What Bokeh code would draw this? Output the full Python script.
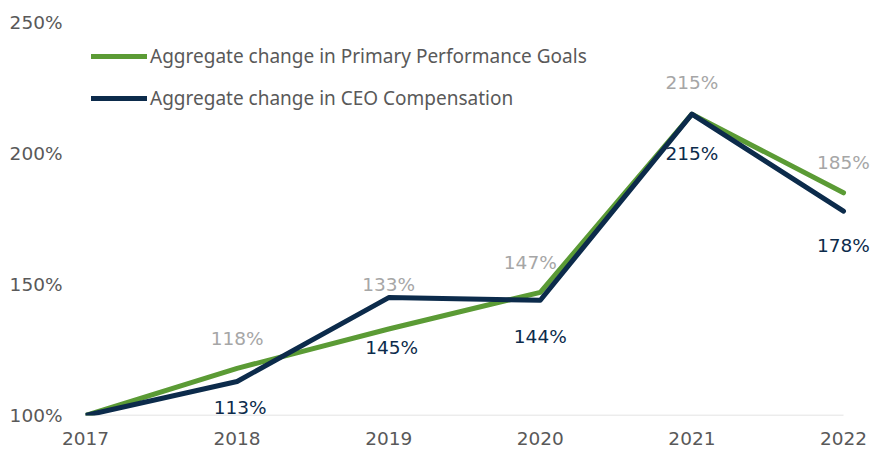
from bokeh.plotting import figure
from bokeh.models import ColumnDataSource, Legend, LegendItem, FixedTicker, CustomJSTickFormatter, LabelSet
from bokeh.core.properties import value
from bokeh.embed import file_html
from bokeh.resources import INLINE

years = [2017, 2018, 2019, 2020, 2021, 2022]
goals = [100, 118, 133, 147, 215, 185]
ceo = [100, 113, 145, 144, 215, 178]
y_ticks = [100, 150, 200, 250]
series_names = ["Aggregate change in Primary Performance Goals", "Aggregate change in CEO Compensation"]

GREEN = "#5B9B35"
NAVY = "#0C2B4B"
GRAY_TXT = "#595959"
LBL_GRAY = "#A6A6A6"
NUM_FONT = "DejaVu Sans"
TXT_FONT = "Noto Sans"

# frame extends to the right edge so the 2022 labels are not clipped
x_pad = 28 / 151.6
p = figure(width=871, height=457, output_backend="svg", toolbar_location=None,
           x_range=(years[0], years[-1] + x_pad), y_range=(y_ticks[0], y_ticks[-1]),
           min_border_left=85, min_border_right=0, min_border_top=22, min_border_bottom=42)
p.outline_line_color = None
p.background_fill_color = "white"
p.border_fill_color = "white"
p.xgrid.visible = False
p.ygrid.visible = False

# baseline (axis line only between first and last category)
p.segment(x0=[years[0]], y0=[y_ticks[0]], x1=[years[-1]], y1=[y_ticks[0]],
          line_color="#D9D9D9", line_width=1.5)

# axes
p.xaxis.ticker = FixedTicker(ticks=years)
p.xaxis.axis_line_color = None
p.xaxis.major_tick_line_color = None
p.xaxis.minor_tick_line_color = None
p.xaxis.major_tick_out = 0
p.xaxis.major_label_standoff = 16
p.xaxis.major_label_text_font = NUM_FONT
p.xaxis.major_label_text_font_size = "18.5px"
p.xaxis.major_label_text_color = GRAY_TXT

p.yaxis.ticker = FixedTicker(ticks=y_ticks)
p.yaxis.formatter = CustomJSTickFormatter(code="return tick + '%';")
p.yaxis.axis_line_color = None
p.yaxis.major_tick_line_color = None
p.yaxis.minor_tick_line_color = None
p.yaxis.major_tick_out = 0
p.yaxis.major_label_standoff = 23
p.yaxis.major_label_text_font = NUM_FONT
p.yaxis.major_label_text_font_size = "18.5px"
p.yaxis.major_label_text_color = GRAY_TXT

src = ColumnDataSource(dict(x=years, goals=goals, ceo=ceo))
r_g = p.line("x", "goals", source=src, line_color=GREEN, line_width=5, line_cap="round", line_join="round")
r_c = p.line("x", "ceo", source=src, line_color=NAVY, line_width=5, line_cap="round", line_join="round")

# data labels (skip 2017); offsets in screen px, positive = up/right
g_lab = ColumnDataSource(dict(x=years[1:], y=goals[1:], t=[f"{v}%" for v in goals[1:]],
                              dx=[0, 0, -10, 0, 0], dy=[30, 45, 30, 32, 30]))
c_lab = ColumnDataSource(dict(x=years[1:], y=ceo[1:], t=[f"{v}%" for v in ceo[1:]],
                              dx=[3, 3, 0, 0, 0], dy=[-26, -50, -36, -39, -34]))
p.add_layout(LabelSet(x="x", y="y", text="t", source=g_lab, x_offset="dx", y_offset="dy",
                      text_align="center", text_baseline="middle", text_color=LBL_GRAY,
                      text_font=value(NUM_FONT), text_font_size=value("18.5px")))
p.add_layout(LabelSet(x="x", y="y", text="t", source=c_lab, x_offset="dx", y_offset="dy",
                      text_align="center", text_baseline="middle", text_color=NAVY,
                      text_font=value(NUM_FONT), text_font_size=value("18.5px")))

legend = Legend(items=[LegendItem(label=series_names[0], renderers=[r_g]),
                       LegendItem(label=series_names[1], renderers=[r_c])],
                location=(6, 304), orientation="vertical",
                glyph_width=56, glyph_height=22, label_height=22, spacing=16,
                label_standoff=3, padding=0, margin=0,
                border_line_color=None, background_fill_alpha=0,
                label_text_font=TXT_FONT, label_text_font_size="19px",
                label_text_color=GRAY_TXT)
p.add_layout(legend, "center")

open("out.html", "w").write(file_html(p, INLINE))
